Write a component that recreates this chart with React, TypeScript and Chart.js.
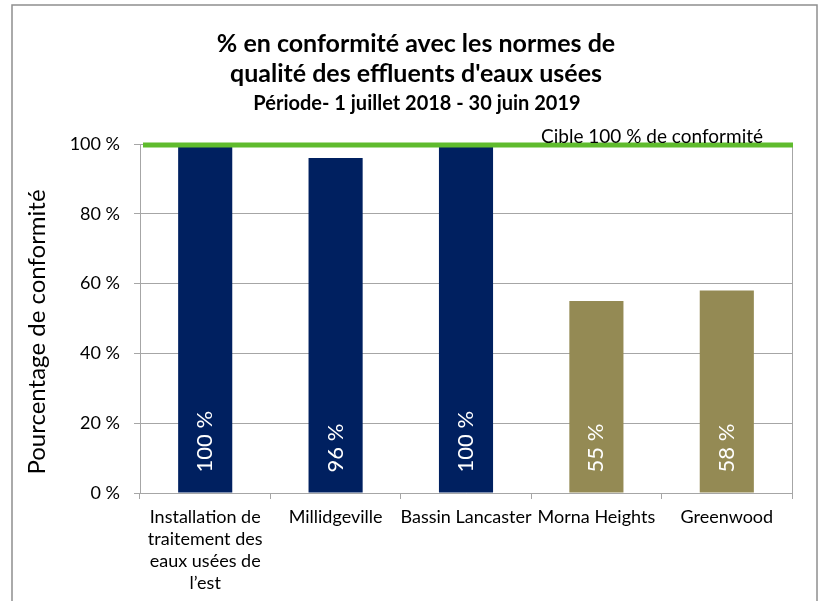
import React, { useEffect, useRef } from 'react';
import { Chart, registerables } from 'chart.js';

Chart.register(...registerables);

const categories: (string | string[])[] = [
  ['Installation de', 'traitement des', 'eaux usées de', 'l’est'],
  'Millidgeville',
  'Bassin Lancaster',
  'Morna Heights',
  'Greenwood',
];
const values = [100, 96, 100, 55, 58];
const valueLabels = ['100 %', '96 %', '100 %', '55 %', '58 %'];
const barColors = ['#002060', '#002060', '#002060', '#948A54', '#948A54'];
const yMin = 0;
const yMax = 100;
const yStep = 20;
const target = 100;
const targetLabel = 'Cible 100 % de conformité';
const titleLines = ['% en conformité avec les normes de', "qualité des effluents d'eaux usées"];
const subtitle = 'Période- 1 juillet 2018 - 30 juin 2019';
const yAxisTitle = 'Pourcentage de conformité';

const FONT = 'Lato, "Open Sans", sans-serif';
const GRID = '#a6a6a6';

const W = 823;
const H = 601;

const decor = {
  id: 'decor',
  beforeDraw(chart: any) {
    const ctx = chart.ctx;
    ctx.save();
    ctx.fillStyle = '#ffffff';
    ctx.fillRect(0, 0, W, H);
    ctx.strokeStyle = '#8f8f8f';
    ctx.lineWidth = 1.5;
    ctx.strokeRect(12, 5, 805, H + 10);
    // titles
    ctx.fillStyle = '#000';
    ctx.textAlign = 'center';
    ctx.textBaseline = 'middle';
    ctx.font = `bold 25px ${FONT}`;
    ctx.fillText(titleLines[0], 416, 44);
    ctx.fillText(titleLines[1], 416, 74);
    ctx.font = `bold 20px ${FONT}`;
    ctx.fillText(subtitle, 417, 104);
    // y axis title
    ctx.save();
    ctx.translate(37, 332);
    ctx.rotate(-Math.PI / 2);
    ctx.font = `24px ${FONT}`;
    ctx.fillText(yAxisTitle, 0, 0);
    ctx.restore();
    ctx.restore();
  },
  afterDatasetsDraw(chart: any) {
    const ctx = chart.ctx;
    const { left, right, top, bottom } = chart.chartArea;
    const y = chart.scales.y;
    ctx.save();
    // right border of plot
    ctx.strokeStyle = GRID;
    ctx.lineWidth = 1;
    ctx.beginPath();
    ctx.moveTo(right + 0.5, top);
    ctx.lineTo(right + 0.5, bottom + 6);
    ctx.stroke();
    // target line
    const ty = y.getPixelForValue(target) + 1;
    ctx.strokeStyle = '#5fbb2d';
    ctx.lineWidth = 5;
    ctx.beginPath();
    ctx.moveTo(left + 3, ty);
    ctx.lineTo(right + 1, ty);
    ctx.stroke();
    ctx.fillStyle = '#000';
    ctx.font = `19px ${FONT}`;
    ctx.textAlign = 'center';
    ctx.textBaseline = 'middle';
    ctx.fillText(targetLabel, 652, 137);
    // value labels
    const meta = chart.getDatasetMeta(0);
    ctx.fillStyle = '#ffffff';
    ctx.font = `22px ${FONT}`;
    ctx.textAlign = 'left';
    meta.data.forEach((bar: any, i: number) => {
      ctx.save();
      ctx.translate(bar.x, bar.base - 20);
      ctx.rotate(-Math.PI / 2);
      ctx.fillText(valueLabels[i], 0, 0);
      ctx.restore();
    });
    ctx.restore();
  },
};

export default function App() {
  const ref = useRef<HTMLCanvasElement>(null);
  useEffect(() => {
    document.body.style.margin = '0';
    const chart = new Chart(ref.current!, {
      type: 'bar',
      data: {
        labels: categories as any,
        datasets: [
          {
            data: values,
            backgroundColor: barColors,
            borderWidth: 0,
            barPercentage: 0.415,
            categoryPercentage: 1,
          },
        ],
      },
      options: {
        responsive: false,
        animation: false,
        devicePixelRatio: 1,
        layout: { padding: { left: 12, right: 31, top: 144, bottom: 0 } },
        plugins: { legend: { display: false }, tooltip: { enabled: false }, title: { display: false } },
        scales: {
          x: {
            afterFit: (s: any) => {
              s.height = 108;
            },
            grid: {
              offset: true,
              drawOnChartArea: false,
              drawTicks: true,
              tickLength: 6,
              color: GRID,
            },
            border: { color: GRID },
            ticks: {
              color: '#000',
              font: { family: FONT, size: 18, lineHeight: 1.22 },
              maxRotation: 0,
              autoSkip: false,
              padding: 7,
            },
          },
          y: {
            min: yMin,
            max: yMax,
            afterFit: (s: any) => {
              s.width = 128;
            },
            grid: { color: GRID, tickLength: 6, drawTicks: true },
            border: { color: GRID },
            ticks: {
              stepSize: yStep,
              color: '#000',
              font: { family: FONT, size: 18 },
              padding: 14,
              callback: (v: any) => `${v} %`,
            },
          },
        },
      },
      plugins: [decor],
    });
    return () => chart.destroy();
  }, []);
  return (
    <div style={{ position: 'absolute', left: 0, top: 0, width: W, height: H }}>
      <canvas ref={ref} width={W} height={H} style={{ display: 'block' }} />
    </div>
  );
}
